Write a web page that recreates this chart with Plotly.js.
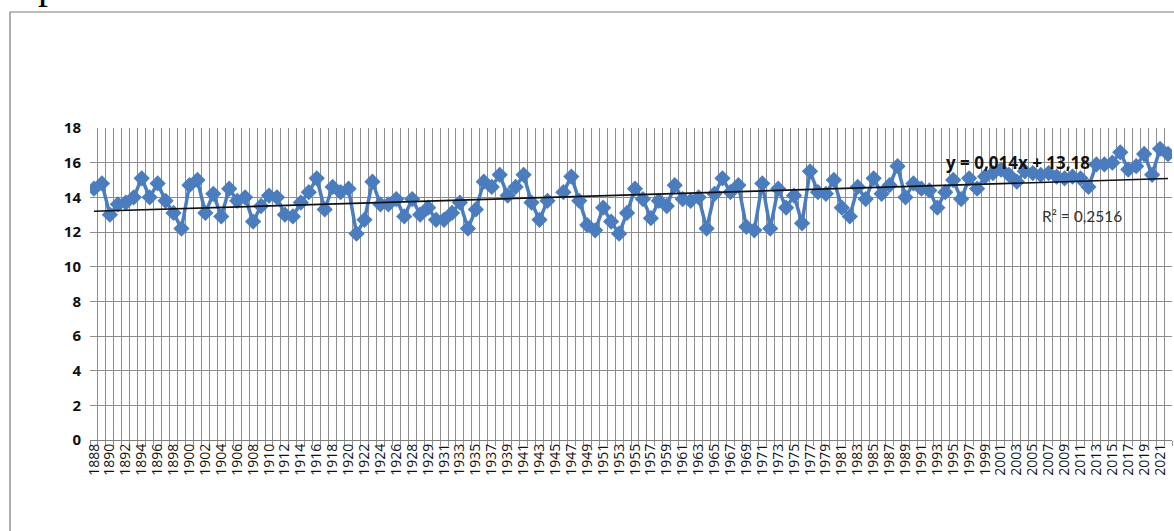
<!DOCTYPE html>
<html><head><meta charset="utf-8">
<script src="https://cdn.plot.ly/plotly-3.0.1.min.js"></script>
<style>html,body{margin:0;padding:0;background:#fff;overflow:hidden;}#chart{width:1174px;height:531px;}</style>
</head><body><div id="chart"></div>
<script>
// Categories (one duplicated source year, as on the original axis)
const years = [
"1888","1889","1890","1891","1892","1893","1894","1895","1896","1897",
"1898","1899","1900","1901","1902","1903","1904","1905","1906","1907",
"1908","1909","1910","1911","1912","1913","1914","1915","1916","1917",
"1918","1919","1920","1921","1922","1923","1924","1925","1926","1927",
"1928","1928","1929","1930","1931","1932","1933","1934","1935","1936",
"1937","1938","1939","1940","1941","1942","1943","1944","1945","1946",
"1947","1948","1949","1950","1951","1952","1953","1954","1955","1956",
"1957","1958","1959","1960","1961","1962","1963","1964","1965","1966",
"1967","1968","1969","1970","1971","1972","1973","1974","1975","1976",
"1977","1978","1979","1980","1981","1982","1983","1984","1985","1986",
"1987","1988","1989","1990","1991","1992","1993","1994","1995","1996",
"1997","1998","1999","2000","2001","2002","2003","2004","2005","2006",
"2007","2008","2009","2010","2011","2012","2013","2014","2015","2016",
"2017","2018","2019","2020","2021","2022"];

// Annual values (null = gap)
const temperature = [
14.5,14.8,13.0,13.6,13.7,14.0,15.1,14.0,14.8,13.8,
13.1,12.2,14.7,15.0,13.1,14.2,12.9,14.5,13.8,14.0,
12.6,13.5,14.1,14.0,13.0,12.9,13.7,14.3,15.1,13.3,
14.6,14.3,14.5,11.9,12.7,14.9,13.6,13.6,13.9,12.9,
13.9,13.0,13.4,12.7,12.7,13.1,13.7,12.2,13.3,14.9,
14.6,15.3,14.1,14.6,15.3,13.7,12.7,13.8,null,14.3,
15.2,13.8,12.4,12.1,13.4,12.6,11.9,13.1,14.5,13.9,
12.8,13.8,13.5,14.7,13.9,13.8,14.0,12.2,14.2,15.1,
14.3,14.7,12.3,12.1,14.8,12.2,14.5,13.4,14.1,12.5,
15.5,14.3,14.2,15.0,13.4,12.9,14.6,13.9,15.1,14.2,
14.7,15.8,14.0,14.8,14.5,14.4,13.4,14.3,15.0,13.9,
15.1,14.5,15.2,15.4,15.6,15.3,14.9,15.5,15.4,15.3,
15.4,15.2,15.1,15.2,15.1,14.6,15.9,15.9,16.0,16.6,
15.6,15.8,16.5,15.3,16.8,16.5];

// Linear trend as printed on the chart (x = 1, 2, 3, ...)
const trendSlope = 0.014;
const trendIntercept = 13.18;
const trendLabel = "y = 0,014x + 13,18";
const r2Label = "R² = 0,2516";
const yTicks = [0,2,4,6,8,10,12,14,16,18];
const pageFragment = "р";

const idx = years.map((_, i) => i);
const trendY = idx.map(i => trendSlope * (i + 1) + trendIntercept);
const tickIdx = idx.filter(i => i % 2 === 0);
const tickText = tickIdx.map(i => years[i]);

const blue = '#4a7dbf';
const grid = '#8e8e8e';

const data = [
  {
    x: idx, y: temperature, type: 'scatter', mode: 'lines+markers',
    line: {color: blue, width: 3.5}, connectgaps: false,
    marker: {symbol: 'diamond', size: 12.5, color: blue},
    hoverinfo: 'x+y', showlegend: false
  },
  {
    x: idx, y: trendY, type: 'scatter', mode: 'lines',
    line: {color: '#111111', width: 1.6}, showlegend: false, hoverinfo: 'skip'
  }
];

const layout = {
  width: 1174, height: 531,
  margin: {l: 90, r: 2, t: 128, b: 91},
  paper_bgcolor: '#ffffff', plot_bgcolor: '#ffffff',
  showlegend: false,
  font: {family: 'Lato, "Open Sans", sans-serif', color: '#111'},
  xaxis: {
    range: [-0.5, years.length - 0.5],
    tickmode: 'array', tickvals: tickIdx, ticktext: tickText,
    tickangle: -90, ticks: '', showgrid: false, zeroline: false,
    tickfont: {family: '"Open Sans", Lato, sans-serif', size: 14, color: '#111'},
    showline: false,
    minor: {tickmode: 'linear', tick0: -0.5, dtick: 1, showgrid: true,
            gridcolor: grid, gridwidth: 1, ticks: 'outside', ticklen: 5, tickcolor: grid}
  },
  yaxis: {
    range: [0, 18], tickmode: 'array', tickvals: yTicks,
    showgrid: true, gridcolor: grid, gridwidth: 1, zeroline: true, zerolinecolor: '#808080', zerolinewidth: 1,
    ticks: '', ticklabelstandoff: 8,
    tickfont: {family: '"Open Sans", Lato, sans-serif', size: 15, color: '#111', weight: 'bold'},
    showline: false
  },
  shapes: [
    {type: 'rect', xref: 'paper', yref: 'paper',
     x0: (10 - 90) / 1082, x1: (1190 - 90) / 1082, y0: (440 - 560) / 312, y1: (440 - 12) / 312,
     line: {color: '#7a7a7a', width: 1.2}, fillcolor: 'rgba(0,0,0,0)', layer: 'below'}
  ],
  annotations: [
    {text: trendLabel, xref: 'paper', yref: 'paper', x: (1018 - 90) / 1082, y: (440 - 162) / 312,
     xanchor: 'center', yanchor: 'middle', showarrow: false,
     font: {family: '"Open Sans", Lato, sans-serif', size: 17, color: '#111', weight: 'bold'}},
    {text: r2Label, xref: 'paper', yref: 'paper', x: (1082 - 90) / 1082, y: (440 - 216) / 312,
     xanchor: 'center', yanchor: 'middle', showarrow: false,
     font: {family: 'Lato, "Open Sans", sans-serif', size: 15.5, color: '#333'}},
    {text: pageFragment, xref: 'paper', yref: 'paper', x: (36 - 90) / 1082, y: (440 - 9) / 312,
     xanchor: 'left', yanchor: 'bottom', showarrow: false,
     font: {family: '"Liberation Serif", serif', size: 40, color: '#000'}}
  ]
};

Plotly.newPlot('chart', data, layout, {staticPlot: true, displayModeBar: false});
</script>
</body></html>
